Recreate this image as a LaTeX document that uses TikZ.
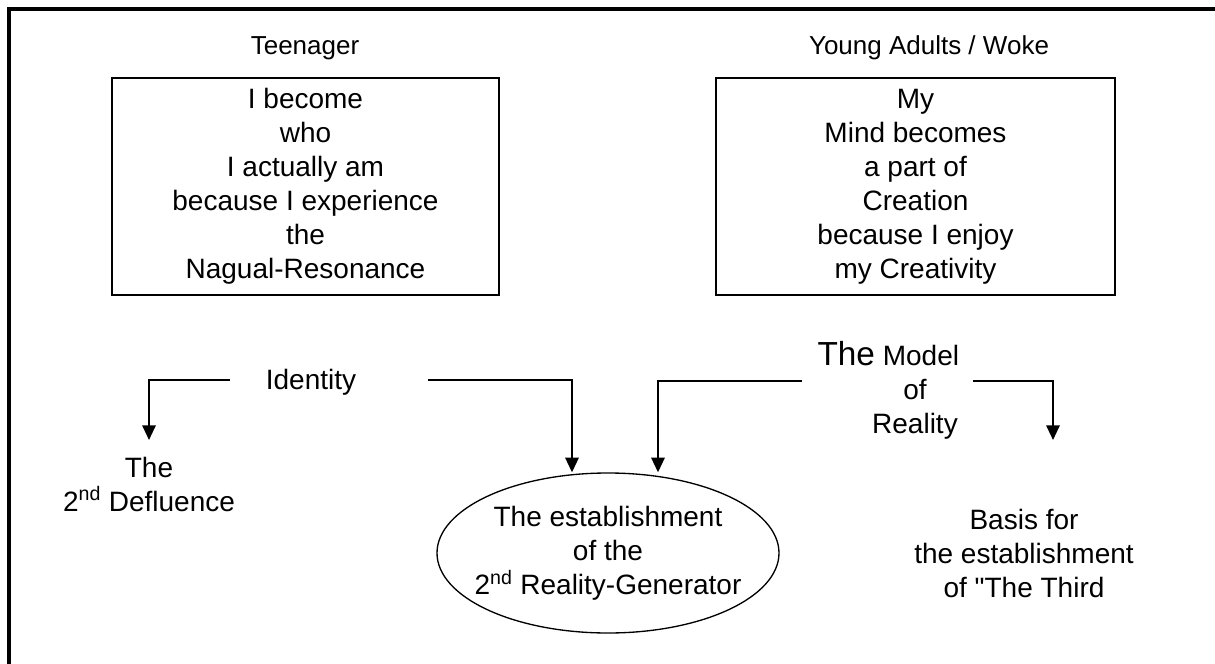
\documentclass[tikz,border=0pt]{standalone}
\usepackage{fontspec}
\setmainfont{Liberation Sans}
\newfontfamily\plainquote{Liberation Sans}
\usetikzlibrary{arrows.meta,shapes.geometric,calc}

\tikzset{
  txt/.style={inner sep=0.75pt, align=center, font=\fontsize{21}{25.5}\selectfont},
  heading/.style={txt, font=\fontsize{19.5}{25.5}\selectfont},
  lifebox/.style={draw, line width=1.4pt, inner sep=0pt, minimum height=162.75pt},
  flow/.style={line width=1.5pt, -{Triangle[width=10pt,length=11pt]}},
}

\begin{document}
\begin{tikzpicture}[x=0.75pt,y=0.75pt,yscale=-1,xscale=1]
\path[use as bounding box] (0,0) rectangle (1215,664);

%Frame (only top and left edge on the page)
\draw[line width=3pt] (9,664) -- (9,9) -- (1215,9);

% Headings
\node[heading] (teen) at (305,48) {Teenager};
\node[heading] (young) at (929,48) {Young Adults / Woke};

%Boxes
\node[lifebox, minimum width=290.25pt] (teenbox) at (305.5,186.5) {};
\node[txt] (teentxt) at (teenbox) {I become\\who\\I actually am\\because I experience\\the\\Nagual-Resonance};
\node[lifebox, minimum width=299.25pt] (youngbox) at (915.5,186.5) {};
\node[txt] (youngtxt) at (youngbox) {My\\Mind becomes\\a part of\\Creation\\because I enjoy\\my Creativity};

% Middle labels
\node[txt] (identity) at (311,382) {Identity};
\node[txt] (model) at (915,390) {{\fontsize{25}{25.5}\selectfont The} Model\hspace*{40pt}\\of\\Reality};

% Targets
\node[txt] (defl) at (149,484) {The\\2\textsuperscript{nd} Defluence};
\node[draw, ellipse, line width=1pt, inner sep=0pt, minimum width=256.5pt, minimum height=120pt] (gen) at (608,553) {};
\node[txt] (gentxt) at (gen) {The establishment\\of the\\2\textsuperscript{nd} Reality-Generator};
\node[txt] (basis) at (1024,553) {Basis for\\the establishment\\of {\plainquote"}The Third};

%Arrows
\draw[flow] ($(identity.west)+(-35,-2)$) -| ($(defl)+(0,-44)$);
\draw[flow] ($(identity.east)+(71,-2)$) -| ($(gen.north)+(-36,0)$);
\draw[flow] ($(model)+(-113,-9)$) -| ($(gen.north)+(50,0)$);
\draw[flow] ($(model)+(58,-9)$) -| ($(basis)+(29,-113)$);

\end{tikzpicture}
\end{document}
